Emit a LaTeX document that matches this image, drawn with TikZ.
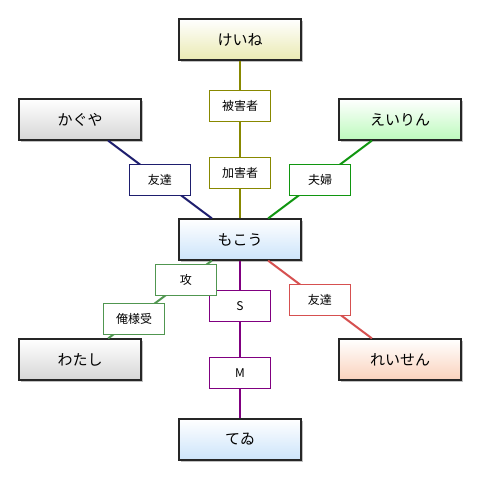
\documentclass[tikz,border=0pt]{standalone}
\usepackage{fontspec}
\newfontfamily\jpfont{Noto Sans CJK JP}
\usepackage{tikz}
\usetikzlibrary{shadows}
\definecolor{olivelink}{RGB}{136,136,0}
\definecolor{navylink}{RGB}{30,30,110}
\definecolor{greenlink}{RGB}{16,150,16}
\definecolor{grasslink}{RGB}{80,150,80}
\definecolor{redlink}{RGB}{214,80,80}
\definecolor{purplelink}{RGB}{128,0,128}
\definecolor{keinefill}{RGB}{234,234,178}
\definecolor{grayfill}{RGB}{214,214,214}
\definecolor{eirinfill}{RGB}{188,250,188}
\definecolor{bluefill}{RGB}{204,228,250}
\definecolor{reisenfill}{RGB}{250,210,188}

\begin{document}
\begin{tikzpicture}[x=1pt, y=-1pt,
    chara/.style={draw=black!85, line width=1.2pt, minimum width=122pt, minimum height=41pt, inner sep=0pt,
      top color=white, font=\jpfont\fontsize{15}{15}\selectfont,
      drop shadow={shadow xshift=1.5pt, shadow yshift=-1.5pt, fill=black!40, opacity=0.6}},
    rel/.style={fill=white, text=black, line width=1pt, minimum width=61pt, minimum height=31pt, inner sep=0pt,
      font=\jpfont\fontsize{12}{12}\selectfont},
    link/.style={line width=2pt}]
  \useasboundingbox[fill=white] (0,0) rectangle (480,480);

  \node[chara, bottom color=keinefill] (keine) at (240,39.5) {けいね};
  \node[chara, bottom color=grayfill] (kaguya) at (80,119.5) {かぐや};
  \node[chara, bottom color=eirinfill] (eirin) at (400,119.5) {えいりん};
  \node[chara, bottom color=bluefill] (mokou) at (240,239.5) {もこう};
  \node[chara, bottom color=grayfill] (watashi) at (80,359.5) {わたし};
  \node[chara, bottom color=reisenfill] (reisen) at (400,359.5) {れいせん};
  \node[chara, bottom color=bluefill] (tei) at (240,439.5) {てゐ};

  \draw[link, olivelink] (keine) -- node[rel, draw=olivelink, pos=0.29] (higai) {被害者}
    node[rel, draw=olivelink, pos=0.71] (kagai) {加害者} (mokou);
  \draw[link, navylink] (kaguya) -- node[rel, draw=navylink] (tomo1) {友達} (mokou);
  \draw[link, greenlink] (eirin) -- node[rel, draw=greenlink] (fufu) {夫婦} (mokou);
  \draw[link, purplelink] (mokou) -- node[rel, draw=purplelink, pos=0.29] (sado) {S}
    node[rel, draw=purplelink, pos=0.71] (maso) {M} (tei);
  \draw[link, redlink] (mokou) -- node[rel, draw=redlink] (tomo2) {友達} (reisen);
  \draw[link, grasslink] (mokou) -- node[rel, draw=grasslink, pos=0.25] (seme) {攻}
    node[rel, draw=grasslink, pos=0.75] (uke) {俺様受} (watashi);
\end{tikzpicture}
\end{document}
